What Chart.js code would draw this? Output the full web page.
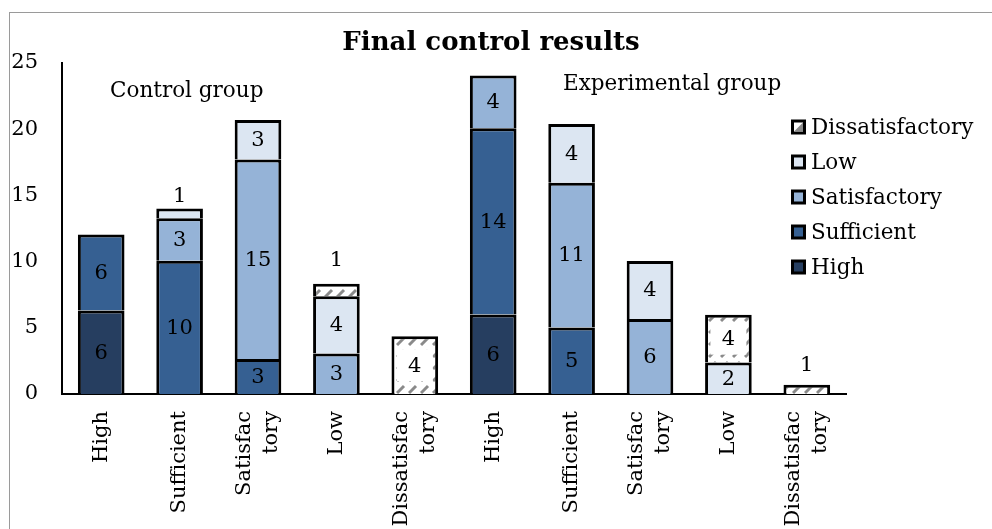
<!DOCTYPE html>
<html>
<head>
<meta charset="utf-8">
<script src="https://cdn.jsdelivr.net/npm/chart.js@4.4.1/dist/chart.umd.min.js"></script>
<style>
  html, body { margin: 0; padding: 0; background: #ffffff; overflow: hidden; }
  #wrap { position: relative; width: 992px; height: 529px; }
  #frame { position: absolute; left: 9px; top: 12px; width: 1100px; height: 700px;
           border: 1.5px solid #9a9a9a; box-sizing: border-box; pointer-events: none; }
  canvas { position: absolute; left: 0; top: 0; }
</style>
</head>
<body>
<div id="wrap">
  <div id="frame"></div>
  <canvas id="c" width="992" height="529"></canvas>
</div>
<script>
// ---- data ----
const categories = [
  ['High'], ['Sufficient'], ['Satisfac', 'tory'], ['Low'], ['Dissatisfac', 'tory'],
  ['High'], ['Sufficient'], ['Satisfac', 'tory'], ['Low'], ['Dissatisfac', 'tory']
];
const seriesNames = ['High', 'Sufficient', 'Satisfactory', 'Low', 'Dissatisfactory'];
// bar segment heights as drawn
const highValues         = [6.3, null, null, null, null, 6.0, null, null, null, null];
const sufficientValues   = [5.75, 10.07, 2.64, null, null, 14.07, 5.03, null, null, null];
const satisfactoryValues = [null, 3.2, 15.08, 3.05, null, 3.98, 10.93, 5.66, null, null];
const lowValues          = [null, 0.75, 2.98, 4.33, null, null, 4.43, 4.39, 2.37, null];
const dissatValues       = [null, null, null, 0.95, 4.36, null, null, null, 3.62, 0.70];
// numbers printed on the segments
const highLabels         = [6, null, null, null, null, 6, null, null, null, null];
const sufficientLabels   = [6, 10, 3, null, null, 14, 5, null, null, null];
const satisfactoryLabels = [null, 3, 15, 3, null, 4, 11, 6, null, null];
const lowLabels          = [null, 1, 3, 4, null, null, 4, 4, 2, null];
const dissatLabels       = [null, null, null, 1, 4, null, null, null, 4, 1];
const yTicks = [0, 5, 10, 15, 20, 25];

const FONT = 'DejaVu Serif';
const colors = ['#263e60', '#366092', '#95b3d7', '#dce6f2', null];

function makePattern() {
  const p = document.createElement('canvas');
  p.width = 12; p.height = 12;
  const g = p.getContext('2d');
  g.fillStyle = '#ffffff';
  g.fillRect(0, 0, 12, 12);
  g.strokeStyle = '#8a8a8a';
  g.lineWidth = 3;
  g.lineCap = 'butt';
  g.beginPath();
  g.moveTo(1, 9); g.lineTo(8, 2);
  g.stroke();
  return document.getElementById('c').getContext('2d').createPattern(p, 'repeat');
}
colors[4] = makePattern();

const valueSets = [highValues, sufficientValues, satisfactoryValues, lowValues, dissatValues];
const labelSets = [highLabels, sufficientLabels, satisfactoryLabels, lowLabels, dissatLabels];

// labels that sit above a thin segment: [dataset, index, pixel offset above top]
const aboveLabels = [[3, 1, 13], [4, 3, 24], [4, 9, 20]];

const datasets = seriesNames.map((name, i) => ({
  label: name,
  data: valueSets[i],
  backgroundColor: colors[i],
  borderColor: '#000000',
  borderWidth: { top: 3, left: 3, right: 3, bottom: 0 },
  borderSkipped: false,
  barPercentage: 0.595,
  categoryPercentage: 1.0,
  stack: 's'
}));

// centre multi-line rotated tick labels on their tick
const tickCenterPlugin = {
  id: 'tickCenter',
  beforeDraw(chart) {
    const s = chart.scales.x;
    const items = s.getLabelItems(chart.chartArea);
    items.forEach(it => {
      if (Array.isArray(it.label) && it.label.length > 1 && !it._shifted) {
        const lh = it.font.lineHeight;
        it.options.translation[0] -= lh * (it.label.length - 1) / 2;
        it._shifted = true;
      }
    });
  }
};

const labelPlugin = {
  id: 'segLabels',
  afterDatasetsDraw(chart) {
    const ctx = chart.ctx;
    ctx.save();
    ctx.font = '21px "' + FONT + '"';
    ctx.fillStyle = '#000';
    ctx.textAlign = 'center';
    ctx.textBaseline = 'middle';
    chart.data.datasets.forEach((ds, di) => {
      const meta = chart.getDatasetMeta(di);
      meta.data.forEach((el, i) => {
        const lab = labelSets[di][i];
        if (lab === null || ds.data[i] === null) return;
        const above = aboveLabels.find(a => a[0] === di && a[1] === i);
        let y;
        if (above) {
          y = el.y - above[2];
        } else {
          y = (el.y + el.base) / 2;
          if (di === 4) {
            ctx.fillStyle = '#fff';
            ctx.fillRect(el.x - 18, y - 16, 36, 32);
            ctx.fillStyle = '#000';
          }
        }
        ctx.fillText(String(lab), el.x, y + 1);
      });
    });
    ctx.restore();
  }
};

const decorPlugin = {
  id: 'decor',
  afterDraw(chart) {
    const ctx = chart.ctx;
    ctx.save();
    // title
    ctx.fillStyle = '#000';
    ctx.font = 'bold 26px "' + FONT + '"';
    ctx.textAlign = 'center';
    ctx.textBaseline = 'alphabetic';
    ctx.fillText('Final control results', 491, 50);
    // group captions
    ctx.font = '21.5px "' + FONT + '"';
    ctx.textAlign = 'left';
    ctx.textBaseline = 'middle';
    ctx.fillText('Control group', 110, 91);
    ctx.fillText('Experimental group', 563, 84);
    // legend (reverse order)
    const rows = [4, 3, 2, 1, 0];
    rows.forEach((di, r) => {
      const ds = chart.data.datasets[di];
      const cy = 127 + r * 35;
      ctx.fillStyle = '#000';
      ctx.fillRect(791, cy - 7.5, 15, 15);
      if (di === 4) {
        ctx.fillStyle = '#fff';
        ctx.fillRect(794, cy - 4.5, 9, 9);
        ctx.fillStyle = '#8a8a8a';
        ctx.beginPath();
        ctx.moveTo(803, cy - 4.5); ctx.lineTo(803, cy + 4.5); ctx.lineTo(794, cy + 4.5);
        ctx.closePath(); ctx.fill();
      } else {
        ctx.fillStyle = ds.backgroundColor;
        ctx.fillRect(794, cy - 4.5, 9, 9);
      }
      ctx.fillStyle = '#000';
      ctx.font = '21.5px "' + FONT + '"';
      ctx.fillText(ds.label, 811, cy + 1);
    });
    ctx.restore();
  }
};

new Chart(document.getElementById('c'), {
  type: 'bar',
  data: { labels: categories, datasets },
  options: {
    responsive: false,
    animation: false,
    layout: { padding: { top: 63, right: 146, bottom: 0, left: 0 } },
    plugins: { legend: { display: false }, tooltip: { enabled: false }, title: { display: false } },
    scales: {
      x: {
        stacked: true,
        grid: { display: false, drawTicks: false },
        border: { display: true, color: '#000', width: 2 },
        ticks: {
          autoSkip: false, maxRotation: 90, minRotation: 90, padding: 17,
          color: '#000', font: { family: FONT, size: 21, lineHeight: 1.3 }
        },
        afterFit(s) { s.height = 135; }
      },
      y: {
        stacked: true,
        min: 0, max: 25,
        afterBuildTicks(s) { s.ticks = yTicks.map(v => ({ value: v })); },
        grid: { display: false, drawTicks: false },
        border: { display: true, color: '#000', width: 2 },
        ticks: { padding: 24, color: '#000', font: { family: FONT, size: 21 } },
        afterFit(s) { s.width = 62; }
      }
    }
  },
  plugins: [tickCenterPlugin, labelPlugin, decorPlugin]
});
</script>
</body>
</html>
